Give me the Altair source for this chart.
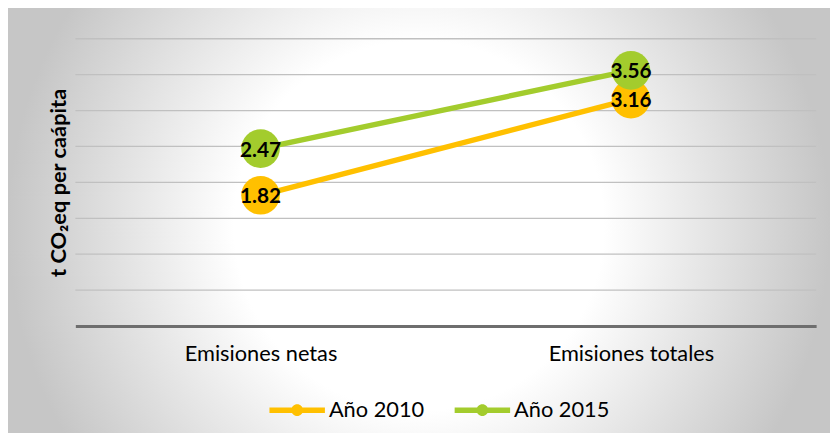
import altair as alt
import pandas as pd

categories = ["Emisiones netas", "Emisiones totales"]
years = ["Año 2010", "Año 2015"]
values_2010 = [1.82, 3.16]
values_2015 = [2.47, 3.56]
colors = ["#FFC000", "#A3CC2D"]
grid_values = [0.5, 1, 1.5, 2, 2.5, 3, 3.5, 4]

rows = []
for yr, vals in zip(years, [values_2010, values_2015]):
    for c, v in zip(categories, vals):
        rows.append({"categoria": c, "anio": yr, "valor": v, "etiqueta": f"{v:.2f}"})
df = pd.DataFrame(rows)
grid_df = pd.DataFrame({"g": grid_values})

FONT = "Lato"
W, H = 748, 290

bg = alt.Chart(alt.Data(values=[{}])).mark_rect(
    fill=alt.RadialGradient(
        gradient="radial",
        x1=0.5, y1=0.5, r1=0.0,
        x2=0.5, y2=0.5, r2=0.5,
        stops=[
            alt.GradientStop(color="#ffffff", offset=0),
            alt.GradientStop(color="#ffffff", offset=0.45),
            alt.GradientStop(color="#c6c6c6", offset=1),
        ],
    )
).encode(
    x=alt.value(-68), x2=alt.value(762),
    y=alt.value(-226), y2=alt.value(604),
)

yscale = alt.Scale(domain=[0, 4], nice=False, zero=True)
yaxis = alt.Axis(
    title="t CO₂eq per caápita", titleFont=FONT, titleFontSize=22,
    titleFontWeight="bold", titleColor="#000000",
    titleX=-17, titleY=H / 2, titleAngle=-90, titleAlign="center",
    titleBaseline="middle",
    labels=False, ticks=False, domain=False, grid=False, zindex=1,
)

grid = alt.Chart(grid_df).mark_rule(color="#c0c0c0", strokeWidth=1.3).encode(
    y=alt.Y("g:Q", scale=yscale, axis=yaxis),
    x=alt.value(0), x2=alt.value(W),
)

xenc = alt.X(
    "categoria:N", sort=categories,
    scale=alt.Scale(type="point", padding=0.5),
    axis=alt.Axis(
        title=None, labelAngle=0, labelFontSize=22, labelFont=FONT,
        labelColor="#000000", labelPadding=18, ticks=False, tickSize=0,
        domainColor="#6e6e6e", domainWidth=3, grid=False, zindex=1,
    ),
)
yenc = alt.Y("valor:Q", scale=yscale, axis=yaxis)

# stroke scale takes its domain from the data (sorted), so its legend is not merged
lines = alt.Chart(df).mark_line(strokeWidth=5.5).encode(
    x=xenc, y=yenc,
    stroke=alt.Stroke("anio:N", sort=years, scale=alt.Scale(range=colors), legend=None),
    detail="anio:N",
)

sym_path = ("M-1,-0.1 L1,-0.1 L1,0.1 L-1,0.1 Z "
            "M-0.21,0 A0.21,0.21 0 1,1 0.21,0 A0.21,0.21 0 1,1 -0.21,0 Z")

points = alt.Chart(df).mark_circle(size=1520, opacity=1).encode(
    x=xenc, y=yenc,
    color=alt.Color(
        "anio:N", sort=years, scale=alt.Scale(domain=years, range=colors),
        legend=alt.Legend(
            title=None, orient="none", direction="horizontal",
            legendX=196, legendY=347, zindex=2,
            symbolType=sym_path, symbolSize=3136, symbolStrokeWidth=0,
            symbolOpacity=1,
            labelFont=FONT, labelFontSize=22, labelColor="#000000",
            labelOffset=4, columnPadding=30,
        ),
    ),
)

labels = alt.Chart(df).mark_text(
    font=FONT, fontSize=21, fontWeight="bold", color="#000000",
    align="center", baseline="middle", dy=2,
).encode(x=xenc, y=yenc, text="etiqueta:N")

chart = alt.layer(bg, grid, lines, points, labels).properties(
    width=W, height=H,
    autosize=alt.AutoSizeParams(type="none"),
    padding={"left": 68, "top": 29, "right": 14, "bottom": 106},
).configure_view(stroke=None)

chart.save("out.html", embed_options={"renderer": "svg", "actions": False})
